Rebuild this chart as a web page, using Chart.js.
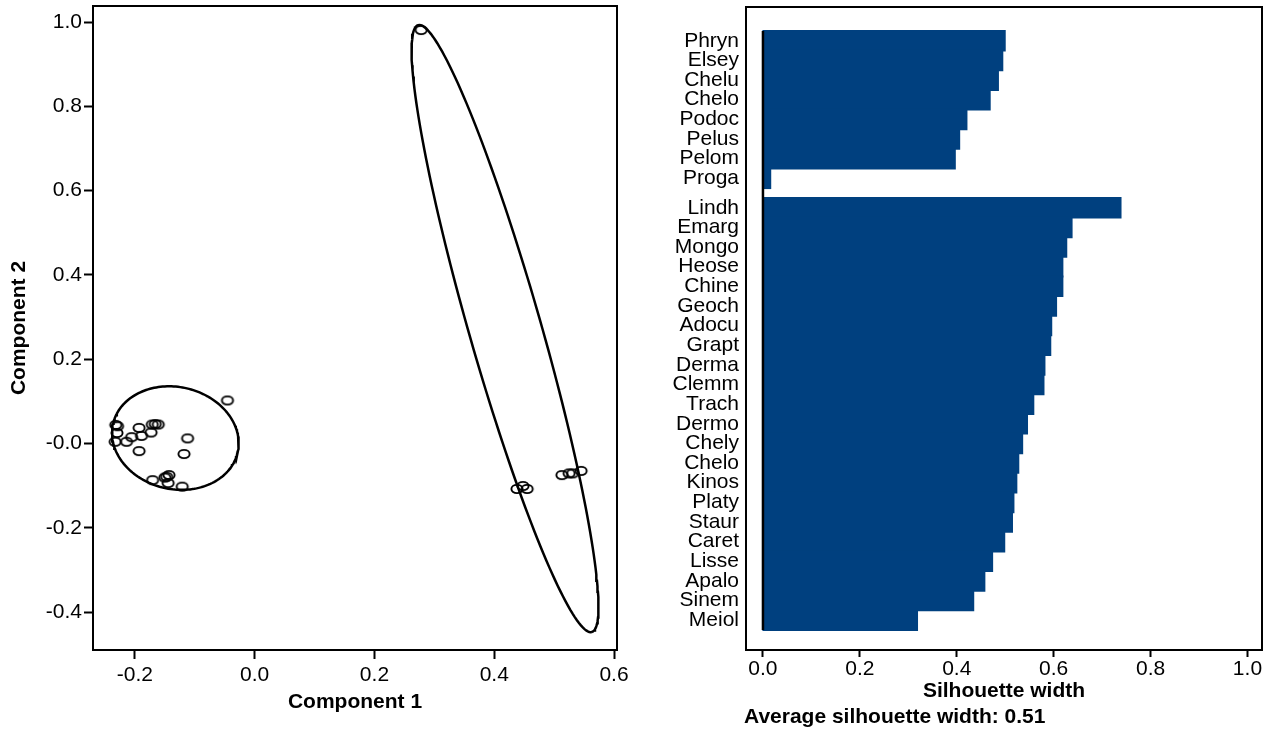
<!DOCTYPE html>
<html>
<head>
<meta charset="utf-8">
<script src="https://cdn.jsdelivr.net/npm/chart.js@4.4.1/dist/chart.umd.min.js"></script>
<style>
  html, body { margin: 0; padding: 0; background: #fff; }
  #left { position: absolute; left: 0; top: 0; width: 640px; height: 730px; }
  #right { position: absolute; left: 640px; top: 0; width: 629px; height: 730px; }
</style>
</head>
<body>
<div id="left"><canvas id="clusChart"></canvas></div>
<div id="right"><canvas id="silChart"></canvas></div>
<script>
// --- cluster plot (component scores) ---
const pcX = [-0.0455, -0.232, -0.229, -0.230, -0.233, -0.214, -0.2055, -0.193, -0.189, -0.173, -0.171,
             -0.161, -0.166, -0.193, -0.112, -0.118, -0.1705, -0.150, -0.143, -0.1445, -0.121, -0.147,
             0.278, 0.438, 0.448, 0.455, 0.513, 0.525, 0.531, 0.545];
const pcY = [0.102, 0.044, 0.041, 0.025, 0.004, 0.004, 0.015, 0.037, 0.018, 0.026, 0.045,
             0.045, 0.046, -0.018, 0.012, -0.025, -0.087, -0.081, -0.075, -0.094, -0.1025, -0.079,
             0.981, -0.108, -0.101, -0.108, -0.075, -0.071, -0.071, -0.065];
const xTicks = [-0.2, 0, 0.2, 0.4, 0.6];
const yTicks = [-0.4, -0.2, 0, 0.2, 0.4, 0.6, 0.8, 1.0];
const yTickLabels = ['-0.4', '-0.2', '-0.0', '0.2', '0.4', '0.6', '0.8', '1.0'];

// cluster ellipses: centre + two conjugate semi-diameters (data units)
const ellCenter = [[-0.1325, 0.0128], [0.418, 0.2727]];
const ellAxisU = [[0.104, -0.0342], [0.145, -0.720]];
const ellAxisV = [[-0.0192, -0.118], [0.0577, 0.0235]];

// --- silhouette plot ---
const silNames1 = ['Phryn', 'Elsey', 'Chelu', 'Chelo', 'Podoc', 'Pelus', 'Pelom', 'Proga'];
const silWidths1 = [0.499, 0.494, 0.485, 0.468, 0.420, 0.405, 0.396, 0.015];
const silNames2 = ['Lindh', 'Emarg', 'Mongo', 'Heose', 'Chine', 'Geoch', 'Adocu', 'Grapt', 'Derma', 'Clemm', 'Trach',
                   'Dermo', 'Chely', 'Chelo', 'Kinos', 'Platy', 'Staur', 'Caret', 'Lisse', 'Apalo', 'Sinem', 'Meiol'];
const silWidths2 = [0.738, 0.637, 0.626, 0.618, 0.618, 0.605, 0.595, 0.593, 0.581, 0.579, 0.558,
                    0.545, 0.535, 0.527, 0.523, 0.517, 0.514, 0.498, 0.473, 0.457, 0.434, 0.318];
const silTicks = [0, 0.2, 0.4, 0.6, 0.8, 1.0];
const avgWidth = 0.51;

const FAMILY = "'Liberation Sans', Arial, sans-serif";
const tickFont = { family: FAMILY, size: 21 };
const titleFont = { family: FAMILY, size: 21, weight: 'bold' };

// box round the plotting region, like base R graphics
const boxFrame = {
  id: 'boxFrame',
  afterDraw(chart) {
    const a = chart.chartArea, ctx = chart.ctx;
    ctx.save();
    ctx.strokeStyle = '#000';
    ctx.lineWidth = 2;
    ctx.strokeRect(a.left, a.top, a.right - a.left, a.bottom - a.top);
    ctx.restore();
  }
};

// no extra room for half tick labels, the layout padding handles it
function noLabelPad(s) {
  s.paddingTop = 0; s.paddingBottom = 0; s.paddingLeft = 0; s.paddingRight = 0;
}

function ringMarker() {
  const c = document.createElement('canvas');
  c.width = 16; c.height = 12;
  const g = c.getContext('2d');
  g.lineWidth = 1.9;
  g.strokeStyle = '#000';
  g.beginPath();
  g.ellipse(8, 6, 5.6, 4.1, 0, 0, Math.PI * 2);
  g.stroke();
  return c;
}

function ellipsePoints(k) {
  const pts = [];
  for (let i = 0; i <= 180; i++) {
    const t = i / 180 * Math.PI * 2;
    pts.push({
      x: ellCenter[k][0] + ellAxisU[k][0] * Math.cos(t) + ellAxisV[k][0] * Math.sin(t),
      y: ellCenter[k][1] + ellAxisU[k][1] * Math.cos(t) + ellAxisV[k][1] * Math.sin(t)
    });
  }
  return pts;
}

document.addEventListener('DOMContentLoaded', function() {
  renderClusplot();
  renderSilhouette();
});

function renderClusplot() {
  const marker = ringMarker();
  const ellSets = ellCenter.map((c, k) => ({
    data: ellipsePoints(k), showLine: true, pointRadius: 0, borderColor: '#000',
    borderWidth: 2.5, fill: false, tension: 0
  }));
  new Chart(document.getElementById('clusChart'), {
    type: 'scatter',
    data: {
      datasets: [{
        data: pcX.map((x, i) => ({ x: x, y: pcY[i] })),
        pointStyle: marker, pointRadius: 5, showLine: false
      }].concat(ellSets)
    },
    options: {
      animation: false, responsive: true, maintainAspectRatio: false,
      layout: { padding: { top: 6, right: 23, bottom: 0, left: 0 } },
      plugins: { legend: { display: false }, tooltip: { enabled: false } },
      scales: {
        x: {
          type: 'linear', min: -0.27, max: 0.605,
          afterBuildTicks: s => { s.ticks = xTicks.map(v => ({ value: v })); },
          ticks: { callback: v => v.toFixed(1), font: tickFont, color: '#000', padding: 4, maxRotation: 0 },
          grid: { drawOnChartArea: false, drawTicks: true, tickLength: 9, tickColor: '#000', tickWidth: 2 },
          border: { display: false },
          title: { display: true, text: 'Component 1', font: titleFont, color: '#000', padding: { top: 0, bottom: 15 } },
          afterFit: s => { s.height = 80; noLabelPad(s); }
        },
        y: {
          type: 'linear', min: -0.49, max: 1.038,
          afterBuildTicks: s => { s.ticks = yTicks.map(v => ({ value: v })); },
          ticks: { callback: (v, i) => yTickLabels[i], font: tickFont, color: '#000', padding: 2 },
          grid: { drawOnChartArea: false, drawTicks: true, tickLength: 9, tickColor: '#000', tickWidth: 2 },
          border: { display: false },
          title: { display: true, text: 'Component 2', font: titleFont, color: '#000', padding: { top: 7, bottom: 7 } },
          afterFit: s => { s.width = 93; noLabelPad(s); }
        }
      }
    },
    plugins: [boxFrame]
  });
}

function renderSilhouette() {
  // bars of the two clusters, half a bar of space between them
  const silPos = [], silVals = [], silLabels = [];
  silNames1.forEach((n, i) => { silPos.push(i + 0.5); silVals.push(silWidths1[i]); silLabels.push(n); });
  silNames2.forEach((n, j) => { silPos.push(silNames1.length + 0.5 + j + 0.5); silVals.push(silWidths2[j]); silLabels.push(n); });

  const zeroLine = {
    id: 'zeroLine',
    afterDatasetsDraw(chart) {
      const xs = chart.scales.x, ys = chart.scales.y, ctx = chart.ctx;
      const x0 = xs.getPixelForValue(0);
      ctx.save();
      ctx.strokeStyle = '#000';
      ctx.lineWidth = 2.5;
      ctx.beginPath();
      ctx.moveTo(x0, ys.getPixelForValue(silPos[0] - 0.5));
      ctx.lineTo(x0, ys.getPixelForValue(silPos[silPos.length - 1] + 0.5));
      ctx.stroke();
      ctx.restore();
    }
  };
  const avgNote = {
    id: 'avgNote',
    afterDraw(chart) {
      const ctx = chart.ctx;
      ctx.save();
      ctx.fillStyle = '#000';
      ctx.font = 'bold 21px ' + FAMILY;
      ctx.textAlign = 'left';
      ctx.textBaseline = 'middle';
      ctx.fillText('Average silhouette width: ' + avgWidth.toFixed(2), chart.chartArea.left - 2, 717);
      ctx.restore();
    }
  };

  new Chart(document.getElementById('silChart'), {
    type: 'bar',
    data: {
      datasets: [{
        data: silPos.map((p, i) => ({ x: silVals[i], y: p })),
        backgroundColor: '#00407f', borderWidth: 0, inflateAmount: 1,
        barPercentage: 1, categoryPercentage: 1
      }]
    },
    options: {
      indexAxis: 'y', animation: false, responsive: true, maintainAspectRatio: false,
      layout: { padding: { top: 7, right: 7, bottom: 0, left: 0 } },
      plugins: { legend: { display: false }, tooltip: { enabled: false } },
      scales: {
        x: {
          type: 'linear', min: -0.035, max: 1.03,
          afterBuildTicks: s => { s.ticks = silTicks.map(v => ({ value: v })); },
          ticks: { callback: v => v.toFixed(1), font: tickFont, color: '#000', padding: 0, maxRotation: 0 },
          grid: { drawOnChartArea: false, drawTicks: true, tickLength: 7, tickColor: '#000', tickWidth: 2 },
          border: { display: false },
          title: { display: true, text: 'Silhouette width', font: titleFont, color: '#000', padding: { top: 0, bottom: 26 } },
          afterFit: s => { s.height = 80; noLabelPad(s); }
        },
        y: {
          type: 'linear', reverse: true, min: -1.22, max: 31.52, offset: false,
          afterBuildTicks: s => { s.ticks = silPos.map(v => ({ value: v })); },
          ticks: { callback: (v, i) => silLabels[i], autoSkip: false, font: { family: FAMILY, size: 21, lineHeight: 1 }, color: '#000', padding: 7 },
          grid: { display: false, drawTicks: false, offset: false },
          border: { display: false },
          afterFit: s => { s.width = 106; noLabelPad(s); }
        }
      }
    },
    plugins: [boxFrame, zeroLine, avgNote]
  });
}
</script>
</body>
</html>
